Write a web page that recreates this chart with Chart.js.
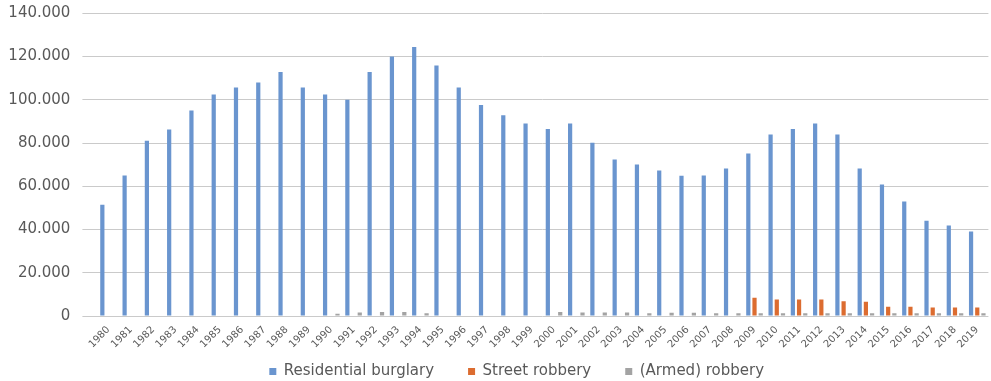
<!DOCTYPE html>
<html>
<head>
<meta charset="utf-8">
<script src="https://cdn.jsdelivr.net/npm/chart.js@4.4.1/dist/chart.umd.min.js"></script>
<style>
html,body{margin:0;padding:0;background:#ffffff;}
canvas{display:block;}
</style>
</head>
<body>
<canvas id="chart" width="991" height="381"></canvas>
<script>
// ---- data ----
const years = ['1980','1981','1982','1983','1984','1985','1986','1987','1988','1989',
               '1990','1991','1992','1993','1994','1995','1996','1997','1998','1999',
               '2000','2001','2002','2003','2004','2005','2006','2007','2008','2009',
               '2010','2011','2012','2013','2014','2015','2016','2017','2018','2019'];

const residentialBurglary = [51500, 65000, 81000, 86300, 95000, 102400, 105700, 108000, 112800, 105700,
                             102400, 100000, 112800, 120000, 124400, 115900, 105700, 97600, 92800, 89000,
                             86500, 89000, 80100, 72400, 70100, 67300, 64900, 65000, 68200, 75200,
                             84000, 86500, 89000, 84000, 68200, 60800, 53000, 44100, 41800, 39100];

const streetRobbery = [null, null, null, null, null, null, null, null, null, null,
                       null, null, null, null, null, null, null, null, null, null,
                       null, null, null, null, null, null, null, null, null, 8400,
                       7600, 7600, 7600, 6800, 6600, 4300, 4300, 3900, 3900, 3900];

const armedRobbery = [null, null, null, null, null, null, null, null, null, null,
                      1000, 1600, 1900, 1900, 1300, null, null, null, null, null,
                      1900, 1600, 1600, 1600, 1300, 1500, 1500, 1300, 1300, 1300,
                      1300, 1300, 1300, 1300, 1300, 1300, 1300, 1300, 1300, 1300];

const seriesNames = ['Residential burglary', 'Street robbery', '(Armed) robbery'];
const yMin = 0, yMax = 140000, yStep = 20000;

// ---- styles ----
const colors = ['#6a95cf', '#dc6c30', '#a3a3a3'];
const textColor = '#595959';
const gridColor = '#cacaca';
const fontFamily = '"DejaVu Sans", "Liberation Sans", sans-serif';

function fmtThousands(v) {
  return String(v).replace(/\B(?=(\d{3})+(?!\d))/g, '.');
}

const seriesData = [residentialBurglary, streetRobbery, armedRobbery];

// place the legend row under the axis labels, centred like the reference
const legendPlacement = {
  id: 'legendPlacement',
  afterLayout(chart) {
    const lg = chart.legend;
    if (!lg) return;
    lg.left = 45;
    lg.width = lg.right - lg.left;
    lg.top -= 22;
    lg.bottom -= 22;
  }
};

new Chart(document.getElementById('chart'), {
  type: 'bar',
  data: {
    labels: years,
    datasets: seriesData.map((d, i) => ({
      label: seriesNames[i],
      data: d,
      backgroundColor: colors[i],
      borderWidth: 0,
      categoryPercentage: 0.835,
      barPercentage: 0.68
    }))
  },
  plugins: [legendPlacement],
  options: {
    responsive: false,
    animation: false,
    devicePixelRatio: 1,
    layout: { padding: { left: 0, right: 2.6, top: 13.3, bottom: -30 } },
    plugins: {
      tooltip: { enabled: false },
      legend: {
        position: 'bottom',
        align: 'center',
        labels: {
          color: textColor,
          font: { family: fontFamily, size: 15 },
          boxWidth: 7,
          boxHeight: 7,
          padding: 34
        }
      }
    },
    scales: {
      x: {
        grid: { display: false, drawTicks: false },
        border: { display: false },
        ticks: {
          color: textColor,
          font: { family: fontFamily, size: 10 },
          maxRotation: 45,
          minRotation: 45,
          autoSkip: false,
          padding: 8
        },
        afterFit: (s) => { s.height = 36; s.paddingLeft = 0; s.paddingRight = 0; }
      },
      y: {
        min: yMin,
        max: yMax,
        border: { display: false },
        grid: { color: gridColor, lineWidth: 1, drawTicks: true, tickLength: 15, tickColor: gridColor },
        ticks: {
          stepSize: yStep,
          color: textColor,
          font: { family: fontFamily, size: 15 },
          padding: 12,
          callback: (v) => fmtThousands(v)
        },
        afterFit: (s) => { s.width = 97.4; s.paddingTop = 0; s.paddingBottom = 0; }
      }
    }
  }
});
</script>
</body>
</html>
